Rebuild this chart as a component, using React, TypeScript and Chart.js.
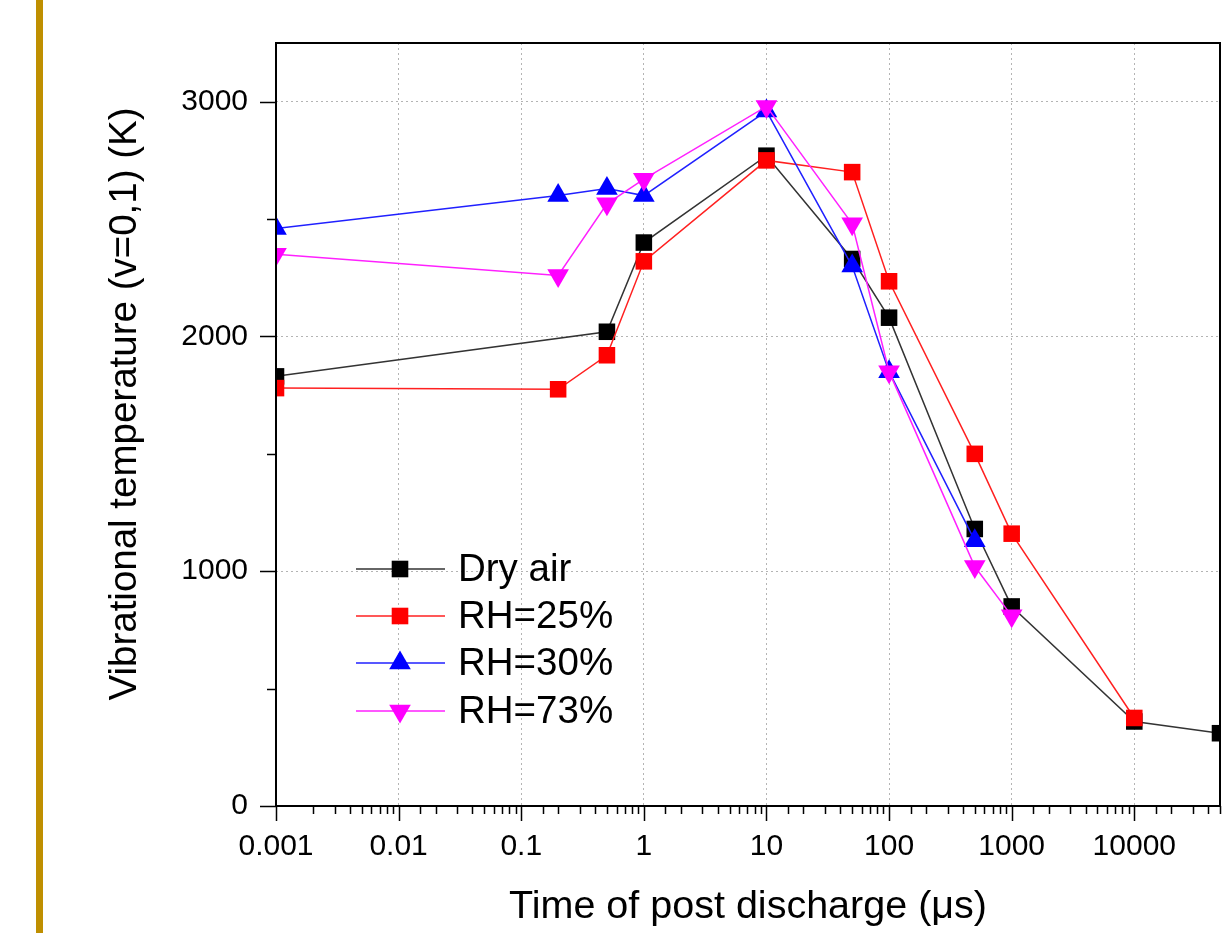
import React, { useEffect, useRef } from 'react';
import { Chart, registerables } from 'chart.js';

Chart.register(...registerables);

// ---- Data ----
const timesDry = [0.001, 0.5, 1, 10, 50, 100, 500, 1000, 10000, 50000];
const tempDry = [1830, 2020, 2400, 2770, 2330, 2080, 1180, 850, 360, 310];

const timesRH25 = [0.001, 0.2, 0.5, 1, 10, 50, 100, 500, 1000, 10000];
const tempRH25 = [1780, 1775, 1920, 2320, 2750, 2700, 2235, 1500, 1160, 375];

const timesRH30 = [0.001, 0.2, 0.5, 1, 10, 50, 100, 500];
const tempRH30 = [2460, 2600, 2630, 2600, 2960, 2300, 1850, 1130];

const timesRH73 = [0.001, 0.2, 0.5, 1, 10, 50, 100, 500, 1000];
const tempRH73 = [2350, 2260, 2565, 2670, 2980, 2480, 1850, 1020, 810];

const seriesLabels = ['Dry air', 'RH=25%', 'RH=30%', 'RH=73%'];
const seriesColors = ['#000000', '#ff0000', '#0000ff', '#ff00ff'];
const lineColors = ['#333333', '#ff2020', '#2020ff', '#ff20ff'];
const seriesMarkers = ['rect', 'rect', 'triangle', 'triangleDown'];

const xTickValues = [0.001, 0.01, 0.1, 1, 10, 100, 1000, 10000];
const xTickLabels = ['0.001', '0.01', '0.1', '1', '10', '100', '1000', '10000'];
const yTickValues = [0, 500, 1000, 1500, 2000, 2500, 3000];
const yTickLabels = ['0', '', '1000', '', '2000', '', '3000'];

const xTitle = 'Time of post discharge (μs)';
const yTitle = 'Vibrational temperature (v=0,1) (K)';

const X_MIN = 0.001;
const X_MAX = 50000;
const Y_MIN = 0;
const Y_MAX = 3250;

const FONT = 'Arial, "Liberation Sans", sans-serif';

function toPoints(xs: number[], ys: number[]) {
  return xs.map((x, i) => ({ x, y: ys[i] }));
}

function drawMarker(ctx: CanvasRenderingContext2D, kind: string, x: number, y: number, color: string) {
  ctx.save();
  ctx.fillStyle = color;
  ctx.beginPath();
  if (kind === 'rect') {
    const h = 8.3;
    ctx.rect(x - h, y - h, 2 * h, 2 * h);
  } else {
    const r = 12.5;
    const dir = kind === 'triangle' ? 1 : -1;
    for (let k = 0; k < 3; k++) {
      const a = (k * 2 * Math.PI) / 3;
      const px = x + Math.sin(a) * r;
      const py = y - dir * Math.cos(a) * r;
      if (k === 0) ctx.moveTo(px, py);
      else ctx.lineTo(px, py);
    }
    ctx.closePath();
  }
  ctx.fill();
  ctx.restore();
}

const decorPlugin = {
  id: 'decor',
  beforeDraw(chart: any) {
    const ctx = chart.ctx as CanvasRenderingContext2D;
    ctx.save();
    ctx.fillStyle = '#ffffff';
    ctx.fillRect(0, 0, chart.width, chart.height);
    ctx.fillStyle = '#bf8f00';
    ctx.fillRect(36, 0, 7, chart.height);
    ctx.restore();
  },
  afterDatasetsDraw(chart: any) {
    const ctx = chart.ctx as CanvasRenderingContext2D;
    const { left, right, top, bottom } = chart.chartArea;
    const xs = chart.scales.x;
    const ys = chart.scales.y;

    // legend
    ctx.save();
    const rowY = [bottom - 237, bottom - 190, bottom - 143, bottom - 95];
    chart.data.datasets.forEach((ds: any, i: number) => {
      const y = rowY[i];
      ctx.strokeStyle = lineColors[i];
      ctx.lineWidth = 1.5;
      ctx.beginPath();
      ctx.moveTo(left + 80, y);
      ctx.lineTo(left + 169, y);
      ctx.stroke();
      drawMarker(ctx, seriesMarkers[i], left + 124, y, seriesColors[i]);
      ctx.fillStyle = '#000000';
      ctx.font = `38.5px ${FONT}`;
      ctx.textAlign = 'left';
      ctx.textBaseline = 'middle';
      ctx.fillText(ds.label, left + 182, y + 1);
    });
    ctx.restore();

    // y-axis title (rotated)
    ctx.save();
    ctx.translate(125, 404);
    ctx.rotate(-Math.PI / 2);
    ctx.fillStyle = '#000000';
    ctx.font = `38.5px ${FONT}`;
    ctx.textAlign = 'center';
    ctx.textBaseline = 'middle';
    ctx.fillText(yTitle, 0, 0);
    ctx.restore();

    // frame
    ctx.save();
    ctx.strokeStyle = '#000000';
    ctx.lineWidth = 2;
    ctx.strokeRect(left, top, right - left, bottom - top);
    ctx.restore();

    // tick marks (outward)
    ctx.save();
    ctx.strokeStyle = '#000000';
    ctx.lineWidth = 1.5;
    ctx.beginPath();
    xs.ticks.forEach((t: any) => {
      const v = t.value;
      if (v < X_MIN * 0.999 || v > X_MAX * 1.001) return;
      const major = isPow10(v);
      const px = Math.round(xs.getPixelForValue(v)) + 0.5;
      ctx.moveTo(px, bottom);
      ctx.lineTo(px, bottom + (major ? 15 : 8));
    });
    ys.ticks.forEach((t: any) => {
      const v = t.value;
      const major = v % 1000 === 0;
      const py = Math.round(ys.getPixelForValue(v)) + 0.5;
      ctx.moveTo(left, py);
      ctx.lineTo(left - (major ? 16 : 9), py);
    });
    ctx.stroke();
    ctx.restore();
  },
};

function isPow10(v: number) {
  const l = Math.log10(v);
  return Math.abs(l - Math.round(l)) < 1e-6;
}

function zeroPadding(s: any) {
  s.paddingLeft = 0;
  s.paddingRight = 0;
  s.paddingTop = 0;
  s.paddingBottom = 0;
}

export default function App() {
  const canvasRef = useRef<HTMLCanvasElement | null>(null);

  useEffect(() => {
    if (!canvasRef.current) return;
    const datasets = [
      { data: toPoints(timesDry, tempDry) },
      { data: toPoints(timesRH25, tempRH25) },
      { data: toPoints(timesRH30, tempRH30) },
      { data: toPoints(timesRH73, tempRH73) },
    ].map((d, i) => ({
      label: seriesLabels[i],
      data: d.data,
      borderColor: lineColors[i],
      backgroundColor: seriesColors[i],
      borderWidth: 1.5,
      pointStyle: seriesMarkers[i] === 'rect' ? 'rect' : 'triangle',
      pointRotation: seriesMarkers[i] === 'triangleDown' ? 180 : 0,
      pointRadius: seriesMarkers[i] === 'rect' ? 11.7 : 12.5,
      pointBorderWidth: 0,
      pointBackgroundColor: seriesColors[i],
      pointBorderColor: seriesColors[i],
      tension: 0,
      clip: 0,
      order: 3 - i,
    }));

    const chart = new Chart(canvasRef.current, {
      type: 'line',
      data: { datasets },
      plugins: [decorPlugin],
      options: {
        animation: false,
        responsive: true,
        maintainAspectRatio: false,
        layout: { padding: { left: 0, right: 7, top: 43, bottom: 0 }, autoPadding: false },
        plugins: { legend: { display: false }, tooltip: { enabled: false } },
        scales: {
          x: {
            type: 'logarithmic',
            min: X_MIN,
            max: X_MAX,
            afterFit: (s: any) => { s.height = 127; zeroPadding(s); },
            grid: {
              drawTicks: false,
              lineWidth: 1,
              color: (c: any) => {
                const v = c.tick ? c.tick.value : NaN;
                if (!isFinite(v) || !isPow10(v) || v <= X_MIN * 1.001 || v >= X_MAX * 0.999) return 'rgba(0,0,0,0)';
                return '#b4b4b4';
              },
            },
            border: { display: false, dash: [2, 3] },
            ticks: {
              autoSkip: false,
              maxRotation: 0,
              padding: 23,
              color: '#000000',
              font: { family: FONT, size: 30 },
              callback: (v: any) => {
                const idx = xTickValues.findIndex((t) => Math.abs(Math.log10(t) - Math.log10(Number(v))) < 1e-6);
                return idx >= 0 ? xTickLabels[idx] : '';
              },
            },
            title: {
              display: true,
              text: xTitle,
              color: '#000000',
              font: { family: FONT, size: 39.5 },
              padding: { top: 0, bottom: 2 },
            },
          },
          y: {
            type: 'linear',
            min: Y_MIN,
            max: Y_MAX,
            afterBuildTicks: (s: any) => {
              s.ticks = yTickValues.map((v) => ({ value: v, major: v % 1000 === 0 }));
            },
            afterFit: (s: any) => { s.width = 276; zeroPadding(s); },
            grid: {
              drawTicks: false,
              lineWidth: 1,
              color: (c: any) => {
                const v = c.tick ? c.tick.value : NaN;
                if (!isFinite(v) || v === 0 || v % 1000 !== 0) return 'rgba(0,0,0,0)';
                return '#b4b4b4';
              },
            },
            border: { display: false, dash: [2, 3] },
            ticks: {
              autoSkip: false,
              padding: 28,
              color: '#000000',
              font: { family: FONT, size: 30 },
              callback: (v: any) => {
                const idx = yTickValues.indexOf(Number(v));
                return idx >= 0 ? yTickLabels[idx] : '';
              },
            },
            title: { display: false },
          },
        },
      },
    });
    return () => chart.destroy();
  }, []);

  return (
    <div style={{ position: 'fixed', left: 0, top: 0, width: 1227, height: 933, background: '#ffffff' }}>
      <canvas ref={canvasRef} />
    </div>
  );
}
